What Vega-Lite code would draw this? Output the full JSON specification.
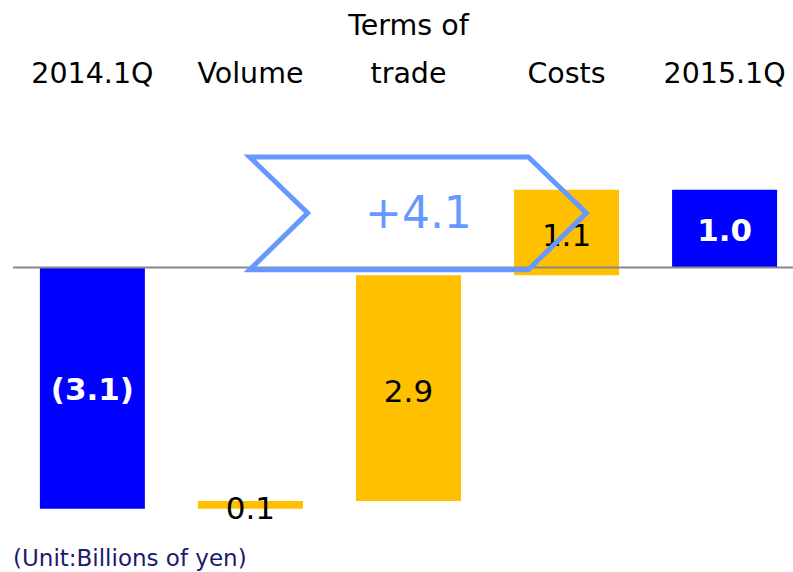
{
  "$schema": "https://vega.github.io/schema/vega-lite/v6.json",
  "width": 793,
  "height": 572,
  "autosize": {"type": "fit", "contains": "padding"},
  "padding": 0,
  "background": "white",
  "config": {"view": {"stroke": null}, "font": "DejaVu Sans"},
  "datasets": {
    "steps": [
      {"cat": "2014.1Q", "cat_top": "", "idx": 0, "start": 0, "end": -3.1, "kind": "total", "label": "(3.1)"},
      {"cat": "Volume", "cat_top": "", "idx": 1, "start": -3.1, "end": -3.0, "kind": "change", "label": "0.1"},
      {"cat": "trade", "cat_top": "Terms of", "idx": 2, "start": -3.0, "end": -0.1, "kind": "change", "label": "2.9"},
      {"cat": "Costs", "cat_top": "", "idx": 3, "start": -0.1, "end": 1.0, "kind": "change", "label": "1.1"},
      {"cat": "2015.1Q", "cat_top": "", "idx": 4, "start": 0, "end": 1.0, "kind": "total", "label": "1.0"}
    ],
    "arrow": [
      {"o": 0, "i": 0.995, "v": 1.42},
      {"o": 1, "i": 2.758, "v": 1.42},
      {"o": 2, "i": 3.125, "v": 0.70},
      {"o": 3, "i": 2.758, "v": -0.03},
      {"o": 4, "i": 0.995, "v": -0.03},
      {"o": 5, "i": 1.362, "v": 0.70},
      {"o": 6, "i": 0.995, "v": 1.42},
      {"o": 7, "i": 1.5, "v": 1.42}
    ],
    "change": [{"text": "+4.1", "i": 2.063, "v": 0.675}],
    "note": [{"text": "(Unit:Billions of yen)"}],
    "base": [{"zero": 0}]
  },
  "layer": [
    {
      "data": {"name": "steps"},
      "mark": {"type": "bar", "width": 105, "stroke": null},
      "encoding": {
        "x": {"field": "idx", "type": "quantitative", "scale": {"domain": [-0.5845, 4.4265], "nice": false, "zero": false, "padding": 0}, "axis": null},
        "y": {"field": "start", "type": "quantitative", "scale": {"domain": [-3.914, 3.438], "nice": false, "zero": false, "padding": 0}, "axis": null},
        "y2": {"field": "end"},
        "color": {"field": "kind", "type": "nominal", "scale": {"domain": ["total", "change"], "range": ["#0000ff", "#ffc000"]}, "legend": null}
      }
    },
    {
      "data": {"name": "base"},
      "mark": {"type": "rule", "color": "#888888", "strokeWidth": 2},
      "encoding": {
        "x": {"value": 13},
        "x2": {"value": 793},
        "y": {"field": "zero", "type": "quantitative"}
      }
    },
    {
      "data": {"name": "steps"},
      "transform": [{"filter": "datum.kind == 'change'"}, {"calculate": "(datum.start + datum.end) / 2", "as": "mid"}],
      "mark": {"type": "text", "fontSize": 31, "color": "#000000", "baseline": "middle", "dy": 5},
      "encoding": {
        "x": {"field": "idx", "type": "quantitative"},
        "y": {"field": "mid", "type": "quantitative"},
        "text": {"field": "label"}
      }
    },
    {
      "data": {"name": "steps"},
      "transform": [{"filter": "datum.kind == 'total'"}, {"calculate": "(datum.start + datum.end) / 2", "as": "mid"}],
      "mark": {"type": "text", "fontSize": 31, "fontWeight": "bold", "color": "#ffffff", "baseline": "middle", "dy": 3},
      "encoding": {
        "x": {"field": "idx", "type": "quantitative"},
        "y": {"field": "mid", "type": "quantitative"},
        "text": {"field": "label"}
      }
    },
    {
      "data": {"name": "arrow"},
      "mark": {"type": "line", "color": "#6699ff", "strokeWidth": 5, "strokeJoin": "miter", "strokeMiterLimit": 10},
      "encoding": {
        "x": {"field": "i", "type": "quantitative"},
        "y": {"field": "v", "type": "quantitative"},
        "order": {"field": "o", "type": "quantitative"}
      }
    },
    {
      "data": {"name": "change"},
      "mark": {"type": "text", "fontSize": 44, "color": "#6699ff", "baseline": "middle"},
      "encoding": {
        "x": {"field": "i", "type": "quantitative"},
        "y": {"field": "v", "type": "quantitative"},
        "text": {"field": "text"}
      }
    },
    {
      "data": {"name": "steps"},
      "mark": {"type": "text", "fontSize": 28.5, "color": "#000000", "baseline": "alphabetic"},
      "encoding": {
        "x": {"field": "idx", "type": "quantitative"},
        "y": {"value": 83},
        "text": {"field": "cat"}
      }
    },
    {
      "data": {"name": "steps"},
      "mark": {"type": "text", "fontSize": 28.5, "color": "#000000", "baseline": "alphabetic"},
      "encoding": {
        "x": {"field": "idx", "type": "quantitative"},
        "y": {"value": 35},
        "text": {"field": "cat_top"}
      }
    },
    {
      "data": {"name": "note"},
      "mark": {"type": "text", "fontSize": 23, "color": "#1a1a6e", "align": "left", "baseline": "alphabetic"},
      "encoding": {
        "x": {"value": 13},
        "y": {"value": 566},
        "text": {"field": "text"}
      }
    }
  ]
}
